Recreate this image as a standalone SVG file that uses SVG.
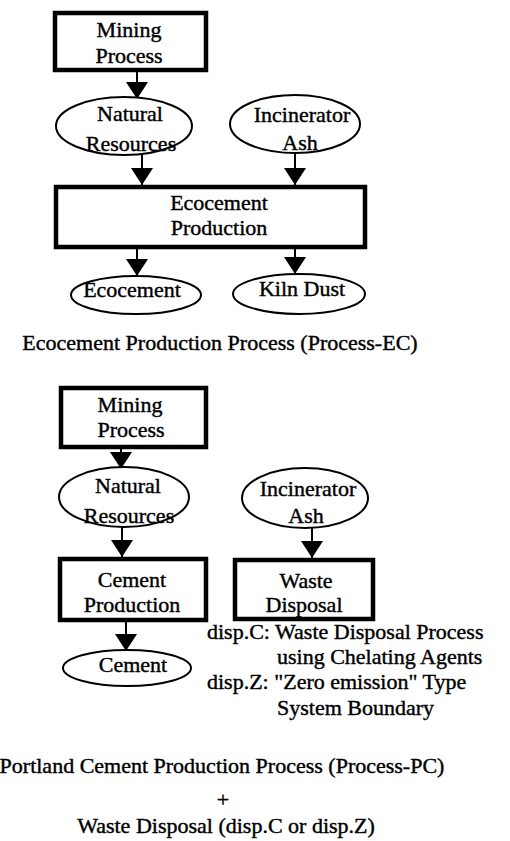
<svg xmlns="http://www.w3.org/2000/svg" width="510" height="841" viewBox="0 0 510 841" font-family="'Liberation Serif', 'DejaVu Serif', serif">
<style>
  text { font-family: 'Liberation Serif', 'DejaVu Serif', serif; font-size: 22px; fill: #000; stroke: #000; stroke-width: 0.4; text-anchor: middle; }
  .box { fill: #fff; stroke: #000; stroke-width: 4.5; }
  .ell { fill: #fff; stroke: #000; stroke-width: 2; }
  .edge { fill: none; stroke: #000; stroke-width: 2; marker-end: url(#arrow); }
  .note { text-anchor: start; }
</style>
<defs>
  <marker id="arrow" viewBox="0 0 17 22" refX="17" refY="11" markerWidth="17" markerHeight="22" markerUnits="userSpaceOnUse" orient="auto">
    <path d="M0,0 L17,11 L0,22 Z" fill="#000"/>
  </marker>
</defs>
<rect width="510" height="841" fill="#fff"/>

<g id="connectors">
  <line class="edge" x1="137" y1="70" x2="137" y2="99"/>
  <line class="edge" x1="142" y1="155" x2="142" y2="185"/>
  <line class="edge" x1="295" y1="153" x2="295" y2="185"/>
  <line class="edge" x1="137" y1="249" x2="137" y2="276"/>
  <line class="edge" x1="295" y1="249" x2="295" y2="274"/>
  <line class="edge" x1="121" y1="449" x2="121" y2="469"/>
  <line class="edge" x1="122" y1="527" x2="122" y2="557"/>
  <line class="edge" x1="126" y1="622" x2="126" y2="651"/>
  <line class="edge" x1="312" y1="528" x2="312" y2="558"/>
</g>

<g id="mining1">
  <rect class="box" x="55" y="13" width="151" height="57"/>
  <text x="129" y="37">Mining</text>
  <text x="129" y="63">Process</text>
</g>
<g id="natres1">
  <ellipse class="ell" cx="124" cy="126" rx="68" ry="29"/>
  <text x="130" y="121">Natural</text>
  <text x="131" y="151">Resources</text>
</g>
<g id="ash1">
  <ellipse class="ell" cx="295" cy="124" rx="65" ry="29"/>
  <text x="302" y="122">Incinerator</text>
  <text x="300" y="150">Ash</text>
</g>
<g id="ecoprod">
  <rect class="box" x="56" y="187" width="309" height="60"/>
  <text x="219" y="210">Ecocement</text>
  <text x="219" y="235">Production</text>
</g>
<g id="ecocement">
  <ellipse class="ell" cx="136" cy="295" rx="65" ry="19"/>
  <text x="132" y="297">Ecocement</text>
</g>
<g id="kilndust">
  <ellipse class="ell" cx="299" cy="294" rx="66" ry="20"/>
  <text x="302" y="296">Kiln Dust</text>
</g>
<text x="220" y="350">Ecocement Production Process (Process-EC)</text>

<g id="mining2">
  <rect class="box" x="61" y="388" width="145" height="59"/>
  <text x="130" y="412">Mining</text>
  <text x="131" y="437">Process</text>
</g>
<g id="natres2">
  <ellipse class="ell" cx="124" cy="497" rx="65" ry="30"/>
  <text x="128" y="493">Natural</text>
  <text x="129" y="523">Resources</text>
</g>
<g id="cementprod">
  <rect class="box" x="60" y="559" width="146" height="61"/>
  <text x="132" y="587">Cement</text>
  <text x="132" y="612">Production</text>
</g>
<g id="cement">
  <ellipse class="ell" cx="127" cy="668" rx="64" ry="18"/>
  <text x="133" y="672">Cement</text>
</g>
<g id="ash2">
  <ellipse class="ell" cx="305" cy="498" rx="63" ry="30"/>
  <text x="308" y="496">Incinerator</text>
  <text x="306" y="523">Ash</text>
</g>
<g id="waste">
  <rect class="box" x="235" y="560" width="138" height="59"/>
  <text x="306" y="588">Waste</text>
  <text x="304" y="612">Disposal</text>
</g>

<g id="notes">
  <text class="note" x="207" y="639">disp.C: Waste Disposal Process</text>
  <text class="note" x="277" y="664">using Chelating Agents</text>
  <text class="note" x="207" y="689">disp.Z: "Zero emission" Type</text>
  <text class="note" x="277" y="715">System Boundary</text>
</g>

<text x="222" y="773">Portland Cement Production Process (Process-PC)</text>
<text x="223" y="807">+</text>
<text x="226" y="833">Waste Disposal (disp.C or disp.Z)</text>
</svg>
